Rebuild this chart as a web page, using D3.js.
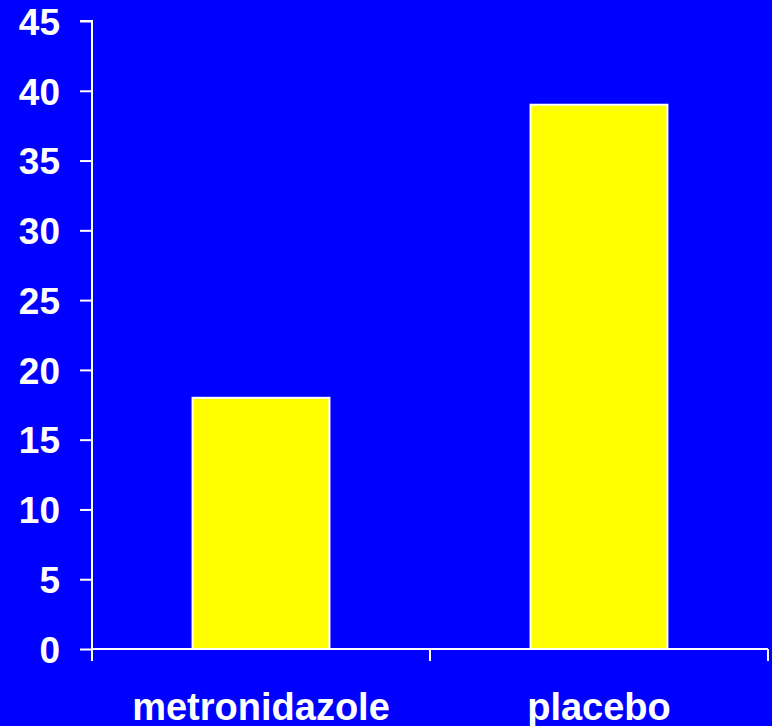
<!DOCTYPE html>
<html><head><meta charset="utf-8">
<script src="https://cdn.jsdelivr.net/npm/d3@7"></script>
<style>html,body{margin:0;padding:0;background:#0000ff;}svg{display:block;}</style>
</head><body>
<script>
const categories = ["metronidazole", "placebo"];
const values = [18, 39];
const yTicks = [0, 5, 10, 15, 20, 25, 30, 35, 40, 45];

const W = 772, H = 726;
const mLeft = 92, mRight = 768, mTop = 21, mBottom = 649;
const svg = d3.select("body").append("svg").attr("width", W).attr("height", H)
  .style("background", "#0000ff");

const x = d3.scaleBand().domain(categories).range([mLeft, mRight]).paddingInner(0.595).paddingOuter(0.2975);
const xb = d3.scaleBand().domain(categories).range([mLeft, mRight]).padding(0);
const y = d3.scaleLinear().domain([0, 45]).range([mBottom, mTop]);

svg.selectAll("rect.bar").data(values).join("rect").attr("class", "bar")
  .attr("x", (d, i) => x(categories[i]))
  .attr("width", x.bandwidth())
  .attr("y", d => y(d))
  .attr("height", d => y(0) - y(d))
  .attr("fill", "#ffff00").attr("stroke", "#ffffff").attr("stroke-width", 2);

const font = "'Liberation Sans', Arial, sans-serif";

// y axis
const yAxis = svg.append("g").attr("transform", `translate(${mLeft},0)`)
  .call(d3.axisLeft(y).tickValues(yTicks).tickSize(12).tickPadding(20));
yAxis.selectAll("text").attr("fill", "#fff").style("font", `bold 37px ${font}`).attr("dy", "0.36em");
yAxis.selectAll("line").attr("stroke", "#fff").attr("stroke-width", 2);
yAxis.select(".domain").attr("stroke", "#fff").attr("stroke-width", 2)
  .attr("d", `M-12,${mTop}H0V${mBottom + 12}`);

// x axis
const xAxis = svg.append("g").attr("transform", `translate(0,${mBottom})`);
xAxis.append("line").attr("x1", mLeft).attr("x2", mRight).attr("stroke", "#fff").attr("stroke-width", 2);
const bounds = [mLeft, ...categories.slice(1).map(c => xb(c)), mRight];
xAxis.selectAll("line.tk").data(bounds).join("line").attr("class", "tk")
  .attr("x1", d => d).attr("x2", d => d).attr("y1", 0).attr("y2", 12)
  .attr("stroke", "#fff").attr("stroke-width", 2);
xAxis.selectAll("text").data(categories).join("text")
  .attr("x", d => xb(d) + xb.bandwidth() / 2).attr("y", 71)
  .attr("text-anchor", "middle").attr("fill", "#fff")
  .style("font", `bold 38px ${font}`).text(d => d);
</script>
</body></html>
